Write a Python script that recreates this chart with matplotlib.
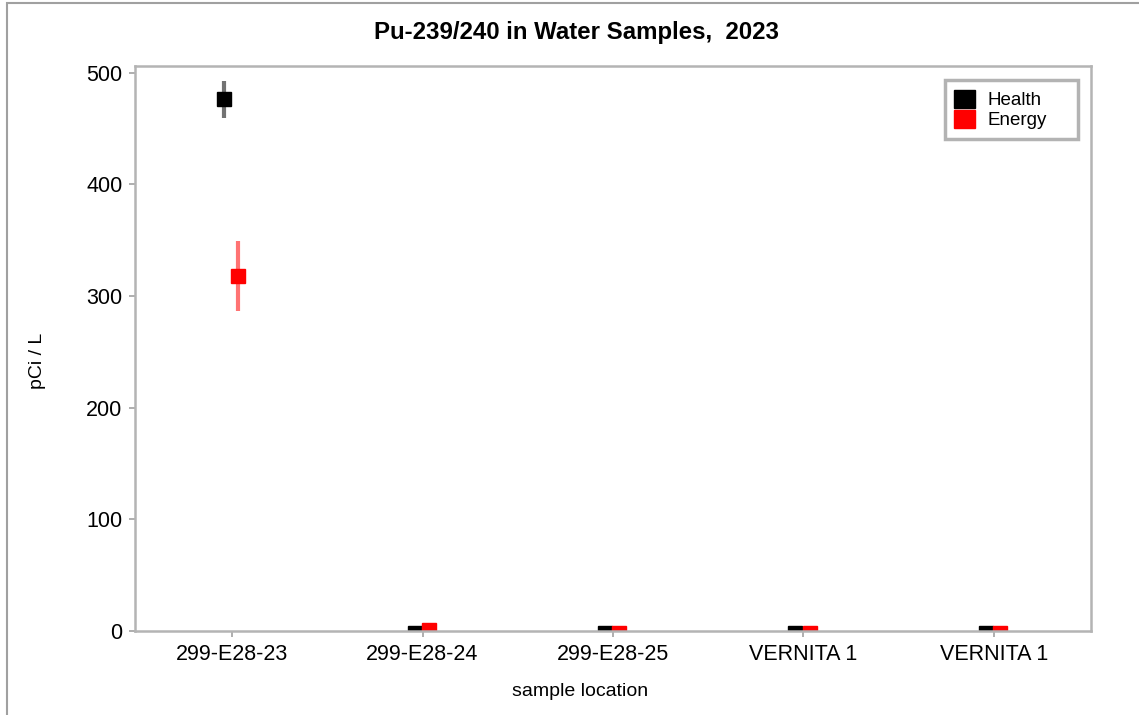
import numpy as np
import matplotlib.pyplot as plt
from matplotlib.patches import Patch, Rectangle

plt.rcParams['font.family'] = ['Liberation Sans', 'DejaVu Sans']

# data
locations = ['299-E28-23', '299-E28-24', '299-E28-25', 'VERNITA 1', 'VERNITA 1']
health = [476, -1.5, -1.5, -1.5, -1.5]
health_err = [17, 1, 1, 1, 1]
energy = [318, 0.6, -1.5, -1.5, -1.5]
energy_err = [31, 1, 1, 1, 1]
yticks = [0, 100, 200, 300, 400, 500]

fig = plt.figure(figsize=(11.39, 7.15), dpi=100)
ax = fig.add_axes([135 / 1139, 1 - 631 / 715, (1091 - 135) / 1139, (631 - 66) / 715])

x = np.arange(len(locations))

# error bars first, markers on top
ax.errorbar(x - 0.042, health, yerr=health_err, fmt='none', ecolor='black',
            alpha=0.55, elinewidth=3, capsize=0, zorder=2)
ax.errorbar(x + 0.032, energy, yerr=energy_err, fmt='none', ecolor='red',
            alpha=0.55, elinewidth=3, capsize=0, zorder=2)
ax.plot(x - 0.042, health, 's', color='black', markersize=10, zorder=3)
ax.plot(x + 0.032, energy, 's', color='red', markersize=10, zorder=3)

ax.set_xlim(-0.51, 4.51)
ax.set_ylim(0, 506)
ax.set_xticks(x)
ax.set_xticklabels(locations, fontsize=15.5)
ax.set_yticks(yticks)
ax.tick_params(axis='y', labelsize=15.5)
ax.tick_params(direction='out', length=4, width=1.3, color='#a8a8a8', pad=5)

for s in ax.spines.values():
    s.set_color('#b4b4b4')
    s.set_linewidth(1.8)
    s.set_zorder(4)

# legend with square patches, box stretched to the reference width
handles = [Patch(facecolor='black', edgecolor='black'),
           Patch(facecolor='red', edgecolor='red')]
leg = ax.legend(handles, ['Health', 'Energy'], loc='upper left', mode='expand',
                bbox_to_anchor=(0.847, 0.0, 0.139, 0.975), fontsize=13.5,
                fancybox=False, handlelength=1.1, handleheight=1.1,
                handletextpad=0.7, labelspacing=0.05, borderpad=0.5,
                borderaxespad=0)
leg.get_frame().set_edgecolor('#a0a0a0')
leg.get_frame().set_linewidth(2.5)

fig.text(577 / 1139, 1 - 32 / 715, 'Pu-239/240 in Water Samples,  2023',
         ha='center', va='center', fontsize=17.3, fontweight='bold')
fig.text(580 / 1139, 1 - 691 / 715, 'sample location', ha='center', va='center', fontsize=14)
fig.text(38 / 1139, 1 - 361 / 715, 'pCi / L', ha='center', va='center',
         rotation=90, fontsize=14)

# outer window frame (only top and left edges visible)
fig.add_artist(Rectangle((7 / 1139, -0.1), 1.2, 1.1 - 3 / 715,
                         transform=fig.transFigure, fill=False,
                         edgecolor='#a0a0a0', linewidth=1.5, clip_on=False))

fig.savefig('out.png', dpi=100)
